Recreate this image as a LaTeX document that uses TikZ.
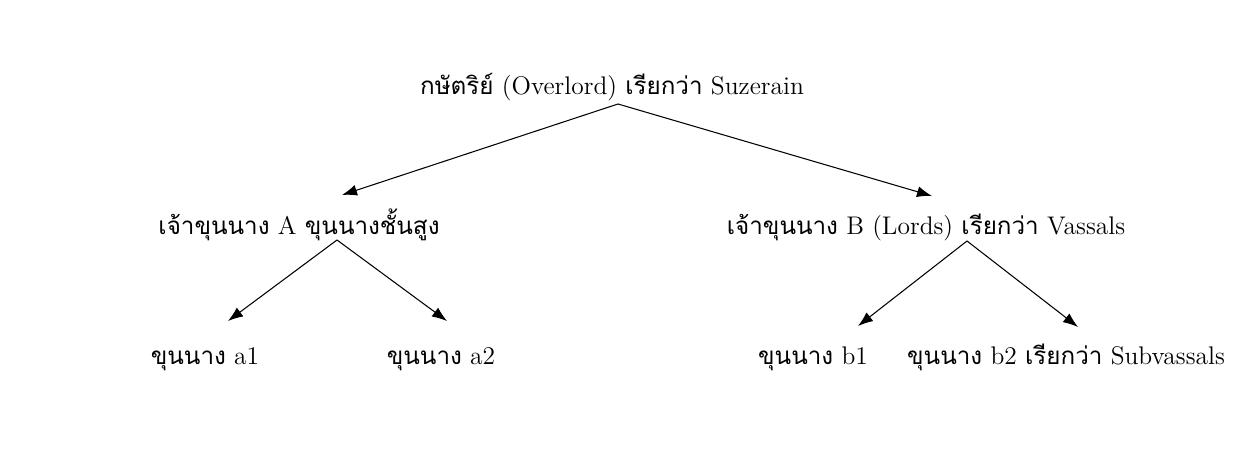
\documentclass[tikz,border=0pt]{standalone}
\usepackage{fontspec}
\usetikzlibrary{arrows.meta}
\newfontfamily\thaifont[Script=Thai,Scale=0.95]{Loma}
\newcommand{\thtxt}[1]{{\thaifont #1}}

\tikzset{
    title/.style={inner sep=0pt, anchor=base, font=\fontsize{14.5}{16}\selectfont},
    arr/.style={-{Latex[length=3mm,width=2.2mm]}, line width=0.6pt}
}

\begin{document}
\begin{tikzpicture}
    \useasboundingbox (0, 0) rectangle (24.74, 9);
    % levels
    \node[title] (king) at (12.24, 7.10) {\thtxt{กษัตริย์} (Overlord) \thtxt{เรียกว่า} Suzerain};
    \node[title] (lordA) at (5.98, 4.32) {\thtxt{เจ้าขุนนาง} A \thtxt{ขุนนางชั้นสูง}};
    \node[title] (lordB) at (18.52, 4.32) {\thtxt{เจ้าขุนนาง} B (Lords) \thtxt{เรียกว่า} Vassals};
    \node[title] (a1) at (4.10, 1.72) {\thtxt{ขุนนาง} a1};
    \node[title] (a2) at (8.82, 1.72) {\thtxt{ขุนนาง} a2};
    \node[title] (b1) at (16.26, 1.72) {\thtxt{ขุนนาง} b1};
    \node[title] (b2) at (21.32, 1.72) {\thtxt{ขุนนาง} b2 \thtxt{เรียกว่า} Subvassals};
    % arrows
    \draw[arr] ([xshift=1.2mm, yshift=-1.8mm]king.base) -- ([xshift=8.6mm, yshift=7.8mm]lordA.base);
    \draw[arr] ([xshift=1.2mm, yshift=-1.8mm]king.base) -- ([xshift=1.2mm, yshift=7.6mm]lordB.base);
    \draw[arr] ([xshift=7.6mm, yshift=-1.2mm]lordA.base) -- ([xshift=4.6mm, yshift=8.6mm]a1.base);
    \draw[arr] ([xshift=7.6mm, yshift=-1.2mm]lordA.base) -- ([xshift=1.2mm, yshift=8.6mm]a2.base);
    \draw[arr] ([xshift=8.2mm, yshift=-1.4mm]lordB.base) -- ([xshift=9mm, yshift=7.6mm]b1.base);
    \draw[arr] ([xshift=8.2mm, yshift=-1.4mm]lordB.base) -- ([xshift=2.4mm, yshift=7.4mm]b2.base);
\end{tikzpicture}
\end{document}
